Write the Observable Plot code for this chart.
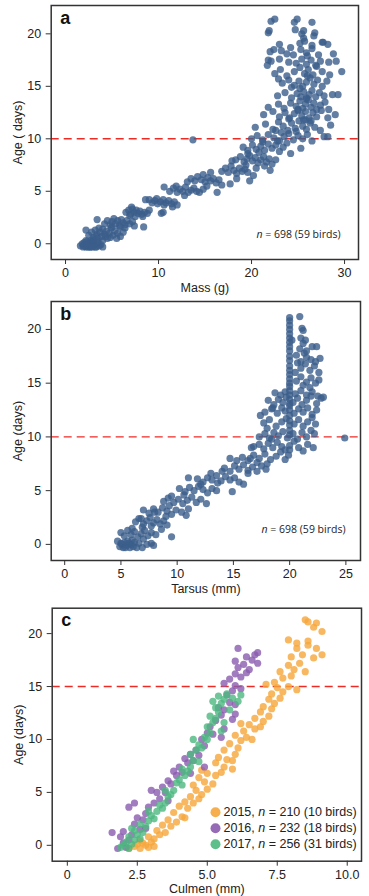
<!DOCTYPE html>
<html>
<head>
<meta charset="utf-8">
<script src="https://cdn.jsdelivr.net/npm/d3@7"></script>
<script src="https://cdn.jsdelivr.net/npm/@observablehq/plot@0.6"></script>
<style>
  html, body { margin: 0; padding: 0; background: #fff; }
  #wrap { position: relative; width: 369px; height: 896px; overflow: hidden; }
</style>
</head>
<body>
<div id="wrap"></div>
<script>
// ---------------- DATA ----------------
// Panel a: [mass (g), age (days)]
const massAge = [
 [1.6,-0.2],[1.8,0.0],[1.9,-0.3],[2.0,0.1],[2.1,-0.1],[2.2,-0.3],[2.3,0.2],[2.4,0.0],[2.5,-0.2],[2.6,0.1],[2.7,-0.3],[2.8,-0.1],[2.9,0.2],[3.0,-0.2],[3.1,0.0],[3.2,-0.3],[3.4,0.1],[3.6,-0.2],[3.8,-0.1],[2.2,0.3],[2.6,-0.3],[3.0,0.3],[2.4,-0.3],[2.0,-0.2],[3.3,-0.3],[2.7,0.3],[4.0,-0.3],[2.3,-0.1],[2.9,-0.3],[3.5,0.2],
 [2.2,1.3],[2.5,0.8],[2.8,1.1],[3.0,0.6],[3.2,1.3],[3.4,0.9],[3.5,0.5],[3.7,1.1],[3.9,0.7],[4.0,1.4],[4.2,0.9],[4.4,1.2],[4.5,0.5],[4.7,1.0],[4.9,1.5],[5.1,0.8],[5.3,1.2],[5.6,1.0],[5.9,0.7],[6.2,1.1],[3.0,0.4],[4.0,0.3],[3.6,1.5],[4.8,0.6],[5.5,0.5],[3.3,0.7],[4.3,0.7],
 [3.4,2.3],[4.2,1.9],[4.5,2.2],[4.8,1.8],[5.0,2.1],[5.2,2.4],[5.4,1.9],[5.6,2.2],[5.8,1.7],[6.0,2.3],[6.2,2.0],[6.4,1.8],[6.6,2.2],[6.9,1.9],[7.2,2.1],[5.9,1.6],[6.4,1.5],[5.0,1.6],[7.4,1.7],[8.4,1.6],
 [6.5,3.0],[6.8,3.2],[7.0,2.8],[7.2,3.3],[7.4,3.0],[7.6,3.2],[7.8,2.9],[8.0,3.1],[8.2,2.8],[8.5,3.0],[8.8,2.9],[9.0,3.2],[7.5,2.6],[8.3,2.6],[6.9,2.7],[7.1,3.5],[8.6,4.2],
 [9.0,4.2],[9.3,3.9],[9.6,4.1],[9.9,3.8],[10.2,4.0],[10.5,4.2],[10.8,3.9],[11.1,4.1],[11.4,3.8],[11.7,4.0],[9.8,4.3],[10.6,3.7],[10.3,2.9],[10.5,3.0],[11.5,3.5],[12.0,3.7],
 [10.6,5.4],[11.2,5.0],[11.6,5.3],[12.0,4.9],[12.3,5.2],[12.6,5.0],[12.9,5.4],[13.2,4.9],[13.5,5.1],[13.8,5.3],[14.1,5.0],[14.4,4.9],[14.8,5.2],[12.8,4.6],[11.9,5.5],
 [13.1,5.9],[13.5,6.2],[13.9,6.0],[14.2,6.4],[14.6,6.1],[15.0,5.9],[15.3,6.3],[15.6,6.0],[15.9,6.2],[16.2,5.8],[16.5,6.1],[14.8,6.6],[15.6,6.8],[16.3,4.9],[15.2,5.5],[16.8,5.6],
 [16.8,6.9],[17.2,7.2],[17.5,6.8],[17.8,7.4],[18.1,7.0],[18.4,6.7],[18.7,7.2],[19.0,6.9],[19.3,7.1],[19.6,6.8],[17.7,5.7],[18.4,6.2],[19.8,6.0],[20.2,6.5],[17.9,7.9],[19.4,7.5],
 [18.3,8.0],[18.8,8.3],[19.2,7.8],[19.5,8.1],[19.8,8.4],[20.1,7.9],[20.4,8.2],[20.7,7.7],[21.0,8.0],[21.3,8.3],[21.6,7.8],[21.9,8.1],[22.2,7.6],[22.6,8.0],[19.6,8.6],[20.8,8.7],[21.4,7.4],[22.0,7.0],[20.5,7.2],
 [19.1,9.2],[19.6,8.9],[20.1,9.4],[20.5,9.0],[21.0,9.3],[21.4,8.9],[21.8,9.5],[22.2,9.1],[22.6,9.4],[23.0,8.8],[23.4,9.2],[23.8,9.6],[24.2,8.6],[25.3,9.1],[13.7,9.9],[22.8,9.8],[21.2,9.7],
 [20.0,10.0],[20.6,10.3],[21.2,9.9],[21.8,10.4],[22.4,10.1],[23.0,9.8],[23.5,10.2],[24.0,10.5],[24.5,9.9],[25.0,10.3],[25.5,10.0],[26.0,10.4],[26.5,9.8],[27.8,10.2],[28.2,10.2],[23.2,10.6],[24.8,10.7],[22.6,10.8],
 [20.4,11.1],[21.5,11.4],[22.3,10.9],[22.9,11.6],[23.4,11.2],[23.9,10.8],[24.3,11.5],[24.7,11.0],[25.1,11.7],[25.5,11.2],[25.9,10.9],[26.3,11.5],[26.8,11.1],[27.4,10.8],[28.5,11.3],[24.0,11.9],[25.8,11.8],
 [21.3,12.3],[22.3,12.6],[23.0,12.1],[23.6,12.5],[24.1,12.0],[24.6,12.4],[25.0,12.8],[25.4,12.2],[25.8,12.6],[26.2,12.0],[26.6,12.5],[27.0,12.1],[27.5,12.7],[28.2,12.0],[29.0,12.3],[25.6,11.8],[26.4,11.7],
 [21.8,13.0],[22.9,13.3],[23.5,12.9],[24.2,13.4],[24.8,13.1],[25.2,13.6],[25.5,12.9],[25.8,13.3],[26.1,13.7],[26.4,13.0],[26.7,13.4],[27.0,12.8],[27.4,13.2],[27.9,13.5],[28.3,12.8],[25.9,13.9],[25.0,12.7],
 [22.8,14.1],[23.6,14.4],[24.3,13.9],[24.9,14.3],[25.3,14.0],[25.6,14.5],[25.9,13.8],[26.2,14.2],[26.5,14.6],[26.9,14.0],[27.3,14.4],[27.8,14.1],[28.7,14.2],[29.3,14.2],[25.2,14.8],
 [22.9,15.7],[23.3,15.3],[24.0,15.6],[24.6,15.1],[25.1,15.5],[25.5,15.0],[25.9,15.4],[26.3,15.8],[26.7,15.2],[27.1,15.6],[27.6,15.0],[28.1,15.5],[24.3,14.9],[26.0,16.0],
 [22.5,16.2],[23.1,16.6],[23.8,16.0],[24.6,16.4],[25.2,16.8],[25.7,16.2],[26.1,16.6],[26.6,16.1],[27.0,16.9],[27.6,16.4],[28.4,16.1],[29.7,16.4],
 [21.7,17.0],[22.1,17.4],[23.0,17.6],[24.0,17.3],[24.8,17.2],[25.4,17.6],[25.9,17.1],[26.4,17.5],[26.9,17.0],[27.4,17.4],[28.3,17.3],[29.1,17.4],[21.8,17.5],
 [22.0,18.3],[22.4,18.5],[23.2,18.4],[23.8,18.1],[24.5,18.0],[25.3,18.5],[25.9,18.2],[26.5,18.6],[27.2,18.0],[27.7,19.2],[28.2,19.0],[28.8,18.1],[26.0,17.9],
 [23.0,19.0],[24.2,18.7],[25.2,19.1],[25.7,19.3],[26.5,18.9],[27.6,19.2],[25.6,19.6],
 [21.8,20.1],[24.7,20.4],[25.4,20.0],[26.7,19.8],[26.8,20.1],[25.6,20.3],
 [22.1,21.2],[22.5,21.4],[24.6,21.1],[24.9,21.4],[26.5,21.1],[21.9,20.3]
];

// Panel b: [tarsus (mm), age (days)]
const tarsusAge = [
 [4.7,0.3],[4.9,-0.2],[5.0,0.1],[5.2,-0.3],[5.3,0.2],[5.5,-0.1],[5.6,0.3],[5.8,-0.3],[5.9,0.0],[6.1,-0.2],[6.2,0.2],[6.4,-0.3],[5.1,0.0],[5.7,0.1],[6.6,0.1],[6.9,-0.3],[7.3,0.0],[7.7,0.1],[7.9,-0.1],[5.4,-0.3],[6.0,0.4],
 [5.0,1.1],[5.3,0.8],[5.6,1.3],[5.9,0.9],[6.2,1.2],[6.5,0.7],[6.8,1.0],[7.1,1.3],[7.4,0.8],[7.7,1.1],[6.0,1.5],[6.9,1.6],[8.1,0.9],[9.5,0.7],[8.6,1.4],[7.0,0.5],
 [6.3,2.1],[6.6,2.4],[7.0,1.9],[7.3,2.2],[7.6,2.5],[7.9,2.0],[8.2,2.3],[8.5,1.9],[8.8,2.2],[9.1,1.8],[6.8,2.4],[7.7,1.7],[9.0,2.6],
 [7.0,3.2],[7.5,2.9],[7.9,3.3],[8.3,3.0],[8.7,3.4],[9.1,3.1],[9.5,2.8],[9.9,3.2],[10.4,3.0],[10.8,2.7],[8.0,3.0],[9.3,3.6],[11.0,3.3],
 [8.8,4.0],[9.2,4.3],[9.7,3.9],[10.1,4.2],[10.5,3.8],[10.9,4.1],[11.3,4.4],[11.7,3.9],[12.1,4.2],[9.5,4.5],[10.6,4.6],[12.6,3.8],
 [10.2,5.2],[10.7,4.9],[11.1,5.3],[11.5,5.0],[11.9,5.4],[12.3,5.1],[12.7,4.8],[13.1,5.2],[13.5,5.0],[14.9,4.9],[11.0,6.2],[12.1,5.6],[13.6,5.7],
 [11.8,6.1],[12.3,5.8],[12.7,6.2],[13.1,6.0],[13.5,6.4],[13.9,5.9],[14.3,6.3],[14.7,6.0],[15.1,6.2],[15.5,5.8],[13.0,6.6],[14.0,6.8],[15.9,5.6],[16.3,6.6],
 [14.2,7.1],[14.7,6.8],[15.1,7.3],[15.5,7.0],[15.9,7.4],[16.3,6.9],[16.7,7.2],[17.1,6.8],[17.5,7.3],[17.9,7.0],[15.3,7.8],[14.7,8.0],[16.5,8.0],
 [15.8,8.1],[16.3,7.8],[16.8,8.3],[17.3,8.0],[17.8,8.4],[18.3,7.9],[18.8,8.2],[19.2,8.6],[19.6,7.9],[18.0,7.5],[17.1,7.6],[16.6,9.0],[19.9,8.3],
 [16.8,9.1],[17.3,9.3],[17.7,8.9],[18.1,9.4],[18.5,9.0],[18.9,9.5],[19.3,9.1],[19.6,8.8],[20.0,9.2],[20.0,8.8],[20.4,9.6],[20.8,9.0],[21.2,8.7],[21.6,9.3],[22.1,9.0],[18.4,9.8],
 [17.3,10.0],[17.8,10.3],[18.2,9.9],[18.6,10.4],[19.0,10.1],[19.4,10.5],[19.8,9.9],[20.0,10.2],[20.0,10.6],[20.3,10.3],[20.7,9.8],[21.1,10.4],[21.5,10.0],[21.9,10.6],[22.2,10.3],[24.9,9.9],[18.0,10.8],
 [17.7,11.3],[18.2,11.6],[18.8,11.0],[19.3,11.4],[19.7,11.7],[20.0,11.1],[20.0,11.5],[20.4,11.2],[20.8,11.6],[21.2,11.0],[21.6,11.4],[22.0,11.8],[22.3,11.2],[17.4,12.0],[18.5,12.7],
 [17.8,12.3],[18.4,12.6],[18.9,12.2],[19.3,12.7],[19.6,12.4],[20.0,12.0],[20.0,12.5],[20.0,12.9],[20.4,12.2],[20.8,12.6],[21.2,12.3],[21.6,12.7],[22.0,12.1],[22.4,12.5],
 [18.1,13.4],[18.6,13.0],[19.0,13.5],[19.4,13.2],[19.7,13.7],[20.0,13.1],[20.0,13.5],[20.0,13.9],[20.3,13.2],[20.7,13.6],[21.1,13.0],[21.5,13.4],[21.9,13.8],[22.4,13.1],[22.8,13.6],
 [18.7,14.1],[19.2,13.9],[19.6,14.2],[20.0,14.3],[20.0,14.7],[20.5,14.0],[21.0,14.3],[21.5,13.9],[22.0,14.2],[22.5,13.8],[23.0,13.7],[21.8,14.6],
 [20.0,15.0],[20.0,15.4],[20.0,15.8],[20.6,15.2],[21.0,15.6],[21.5,15.1],[21.9,15.5],[22.3,15.0],[22.6,15.3],[21.2,14.8],
 [20.0,16.2],[20.0,16.6],[20.5,16.0],[21.0,16.4],[21.4,16.8],[21.8,16.2],[22.2,16.6],[22.6,16.0],[20.7,16.9],
 [20.0,17.1],[20.0,17.5],[20.6,17.6],[21.0,17.0],[21.5,17.4],[21.9,17.2],[22.3,17.0],[22.7,17.3],[21.3,17.8],
 [20.0,18.0],[20.0,18.4],[20.0,18.8],[20.9,18.2],[21.5,18.0],[22.0,18.4],[22.4,18.4],[21.2,18.7],
 [20.0,19.2],[20.0,19.6],[21.0,19.2],[21.4,19.0],[20.2,19.0],
 [20.0,20.0],[20.0,20.4],[20.0,20.8],[20.0,21.1],[21.1,20.1],[21.2,19.9],[20.9,21.2]
];

// Panel c: [culmen (mm), age (days)] per year
const culmen2015 = [
 [2.2,-0.3],[2.4,-0.1],[2.5,0.1],[2.6,-0.3],[2.7,0.2],[2.8,0.0],[2.9,-0.2],[3.0,0.3],[2.6,0.4],[3.1,0.6],[2.9,0.8],[3.3,1.0],[3.2,1.4],[3.5,1.2],[3.4,1.9],[3.7,1.8],[3.6,2.4],[3.9,2.2],[4.1,2.7],[3.8,3.1],[4.0,3.7],[4.3,3.5],[4.2,4.1],[4.5,4.0],[4.4,4.6],[4.7,4.4],[4.8,4.8],[4.6,5.2],[5.0,5.3],[4.5,5.7],[4.9,6.0],[5.2,5.8],[4.7,6.4],[5.0,6.8],[5.3,6.6],[5.5,6.9],[4.8,7.1],[5.6,7.4],[5.3,7.8],[5.7,8.1],[5.4,8.3],[5.9,8.0],[6.0,8.6],[5.6,9.0],[6.1,9.2],[5.8,9.6],[6.2,9.9],[6.4,10.2],[6.0,10.4],[6.6,10.0],[6.3,10.8],[6.7,11.0],[6.5,11.4],[6.9,11.2],[7.0,11.7],[6.7,12.0],[7.2,12.2],[6.9,12.6],[7.3,12.9],[7.0,13.1],[7.4,13.4],[7.2,13.8],[7.6,13.9],[7.3,14.3],[7.7,14.5],[7.5,14.9],[7.9,15.0],[8.2,14.7],[7.4,15.4],[7.7,15.8],[8.0,16.0],[7.6,16.4],[8.1,16.6],[7.9,17.0],[8.3,17.2],[8.5,16.4],[8.0,17.8],[8.4,18.0],[8.8,17.7],[9.1,18.0],[8.2,18.6],[8.6,18.9],[8.9,18.6],[7.9,19.4],[8.2,19.1],[8.6,19.3],[8.8,20.6],[9.1,20.2],[8.5,21.3],[8.9,21.0],[8.6,21.1],[7.1,15.2],[6.2,11.5],[5.9,7.2],[4.2,2.6],[3.1,-0.1]
];
const culmen2016 = [
 [1.6,1.2],[1.8,-0.3],[2.0,0.2],[1.9,0.8],[2.1,-0.2],[2.2,0.5],[2.0,1.3],[2.3,1.0],[2.2,3.6],[2.4,2.0],[2.6,1.5],[2.5,2.6],[2.8,3.0],[2.7,2.4],[2.9,3.6],[3.1,4.0],[3.0,5.2],[3.3,4.4],[3.2,5.0],[3.5,5.0],[3.4,5.5],[3.6,6.1],[3.7,5.8],[3.9,6.6],[3.8,7.0],[4.0,7.4],[4.1,6.9],[4.3,7.8],[4.2,8.2],[4.4,8.6],[4.5,8.0],[4.6,9.0],[4.7,8.5],[4.9,9.4],[4.8,10.0],[5.0,10.6],[5.1,11.2],[5.3,11.8],[5.5,12.3],[5.4,13.0],[5.6,12.8],[5.8,13.5],[5.7,14.2],[6.0,13.3],[5.9,14.6],[5.6,15.3],[6.0,15.1],[6.2,14.8],[5.8,15.7],[6.0,16.2],[6.2,15.9],[6.4,16.3],[6.1,16.8],[6.5,16.6],[6.3,17.1],[6.6,17.5],[6.8,17.2],[6.7,18.0],[6.4,17.8],[6.0,17.4],[6.1,18.6],[6.8,18.2],[5.2,10.5],[5.6,11.0],[5.9,11.9],[4.4,6.8],[3.6,4.2],[2.8,1.6],[2.4,4.0],[6.0,12.4],[5.5,10.2],[4.9,7.4]
];
const culmen2017 = [
 [1.9,-0.2],[2.0,0.0],[2.1,0.3],[2.2,-0.3],[2.3,0.1],[2.4,0.5],[2.2,0.8],[2.5,1.0],[2.6,0.6],[2.4,1.4],[2.7,1.2],[2.8,1.8],[2.6,2.0],[2.9,2.3],[3.0,2.8],[3.1,2.5],[3.2,3.2],[3.3,3.8],[3.4,3.5],[3.5,4.0],[3.6,4.6],[3.7,4.8],[3.8,5.2],[3.9,5.9],[4.0,6.2],[4.1,5.7],[4.2,6.6],[4.3,7.0],[4.4,7.4],[4.5,8.0],[4.4,8.6],[4.6,9.0],[4.7,9.5],[4.9,10.2],[4.8,9.2],[5.0,10.0],[5.1,10.6],[5.0,11.2],[5.2,11.6],[5.3,12.0],[5.1,12.2],[5.4,12.6],[5.3,13.0],[5.5,13.4],[5.6,13.8],[5.4,14.1],[5.7,14.3],[5.9,13.9],[6.1,13.6],[5.8,12.8],[5.6,11.6],[5.5,10.8],[4.7,7.9],[4.1,7.2],[3.5,5.2],[2.9,3.2],[2.3,1.6],[5.2,13.6],[4.5,10.0],[6.2,14.2]
];

const years = ["2015", "2016", "2017"];
const yearLabels = ["2015, n = 210 (10 birds)", "2016, n = 232 (18 birds)", "2017, n = 256 (31 birds)"];
const yearColors = ["#f6a63a", "#8a5bae", "#4cb87f"];
const sampleNote = ["n = 698 (59 birds)", "n = 698 (59 birds)"];
const thresholds = [10, 10, 15];
const panelLetters = ["a", "b", "c"];
const ticksA = [0, 10, 20, 30];
const ticksB = [0, 5, 10, 15, 20, 25];
const ticksC = [0, 2.5, 5, 7.5, 10];
const ticksAge = [0, 5, 10, 15, 20];

// ---------------- DRAWING ----------------
const INK = "#333";
const FONT = "Liberation Sans, Arial, Helvetica, sans-serif";
const ptColor = "#3b5e8b";

function italicN(svg) {
  const ns = "http://www.w3.org/2000/svg";
  svg.querySelectorAll("text").forEach(t => {
    if (t.children.length) return;
    const s = t.textContent;
    const i = s.indexOf("n = ");
    if (i < 0) return;
    t.textContent = "";
    const a = document.createElementNS(ns, "tspan"); a.textContent = s.slice(0, i);
    const b = document.createElementNS(ns, "tspan"); b.textContent = "n"; b.setAttribute("font-style", "italic");
    const c = document.createElementNS(ns, "tspan"); c.textContent = s.slice(i + 1);
    if (a.textContent) t.append(a);
    t.append(b, c);
  });
}

function panel({top, height, mt, mb, ml, mr, xDomain, yDomain, xTicks, xLabel, yLabel, xFmt, letter, threshold, dataMarks, extra}) {
  const svg = Plot.plot({
    width: 369, height,
    marginTop: mt, marginBottom: mb, marginLeft: ml, marginRight: mr,
    style: {fontFamily: FONT, fontSize: "12.5px", color: "#222", background: "transparent", overflow: "visible"},
    x: {domain: xDomain},
    y: {domain: yDomain},
    marks: [
      Plot.ruleY([threshold], {stroke: "#ee2a24", strokeWidth: 1.4, strokeDasharray: "8,5"}),
      ...dataMarks,
      Plot.frame({stroke: INK, strokeWidth: 1.5}),
      Plot.axisX({ticks: xTicks, tickSize: 5, tickPadding: 4, tickFormat: xFmt, label: null, stroke: INK, fontSize: 12.5}),
      Plot.axisX({ticks: [], label: xLabel, labelAnchor: "center", labelArrow: "none", labelOffset: 32, tickSize: 0, fontSize: 12.5}),
      Plot.axisY({ticks: ticksAge, tickSize: 5, tickPadding: 5, label: yLabel, labelAnchor: "center", labelArrow: "none", labelOffset: 38, stroke: INK, fontSize: 12.5}),
      Plot.text([letter], {frameAnchor: "top-left", dx: 9, dy: 18, lineAnchor: "bottom", fontWeight: "bold", fontSize: 18, fill: "#111"}),
      ...(extra || [])
    ]
  });
  svg.style.position = "absolute";
  svg.style.top = top + "px";
  svg.style.left = "0px";
  italicN(svg);
  document.getElementById("wrap").append(svg);
}

const dotOpts = (color) => ({x: d => d[0], y: d => d[1], r: 3.6, fill: color, fillOpacity: 0.8, stroke: "none"});

panel({
  top: 0, height: 296, mt: 5, mb: 37, ml: 50.7, mr: 11,
  xDomain: [-1.54, 31.5], yDomain: [-1.5, 22.7], xTicks: ticksA,
  xLabel: "Mass (g)", yLabel: "Age ( days)", letter: panelLetters[0], threshold: thresholds[0],
  dataMarks: [Plot.dot(massAge, dotOpts(ptColor))],
  extra: [Plot.text([sampleNote[0]], {frameAnchor: "bottom-right", dx: -18, dy: -22, lineAnchor: "bottom", textAnchor: "end", fontSize: 10.5, fontFamily: "Open Sans, sans-serif", fill: "#222"})]
});

panel({
  top: 296, height: 300, mt: 5, mb: 36, ml: 50.7, mr: 9,
  xDomain: [-1.2, 26.3], yDomain: [-1.5, 22.6], xTicks: ticksB,
  xLabel: "Tarsus (mm)", yLabel: "Age (days)", letter: panelLetters[1], threshold: thresholds[1],
  dataMarks: [Plot.dot(tarsusAge, dotOpts(ptColor))],
  extra: [Plot.text([sampleNote[1]], {frameAnchor: "bottom-right", dx: -15, dy: -28, lineAnchor: "bottom", textAnchor: "end", fontSize: 10.5, fontFamily: "Open Sans, sans-serif", fill: "#222"})]
});

const culmenSets = [culmen2015, culmen2016, culmen2017];
const legendMarks = [];
years.forEach((yr, i) => {
  legendMarks.push(Plot.dot([yr], {frameAnchor: "bottom-right", dx: -146, dy: -49 + 16 * i, r: 5, fill: yearColors[i], fillOpacity: 0.9}));
  legendMarks.push(Plot.text([yearLabels[i]], {frameAnchor: "bottom-right", dx: -138, dy: -49 + 16 * i, textAnchor: "start", lineAnchor: "middle", fontSize: 12.5, fill: "#222"}));
});

panel({
  top: 596, height: 300, mt: 11.7, mb: 35.3, ml: 51.7, mr: 8,
  xDomain: [-0.54, 10.51], yDomain: [-1.5, 22.4], xTicks: ticksC, xFmt: d => d === 0 ? "0" : d.toFixed(1),
  xLabel: "Culmen (mm)", yLabel: "Age (days)", letter: panelLetters[2], threshold: thresholds[2],
  dataMarks: culmenSets.map((set, i) => Plot.dot(set, dotOpts(yearColors[i]))),
  extra: legendMarks
});
</script>
</body>
</html>
